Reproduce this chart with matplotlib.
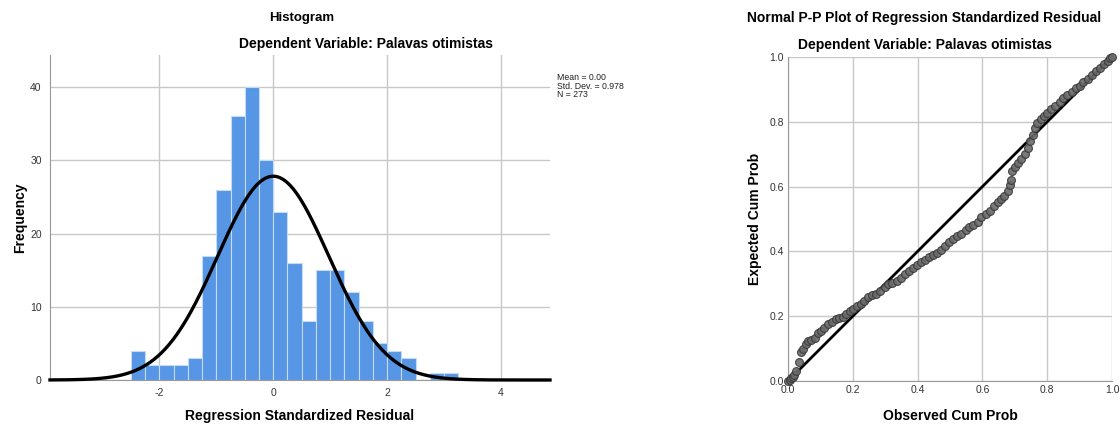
import numpy as np
import matplotlib
matplotlib.use("Agg")
import matplotlib.pyplot as plt

plt.rcParams['font.family'] = ['Liberation Sans', 'DejaVu Sans']
plt.rcParams['axes.unicode_minus'] = False

# Histogram data (bins of 0.25 starting at -2.5)
bin_start = -2.5
bin_width = 0.25
counts = [4, 2, 2, 2, 3, 17, 26, 36, 40, 30, 23, 16, 8, 15, 15, 12, 8, 5, 4, 3, 0, 1, 1]
mean = 0.00
std_dev = 0.978
n_obs = 273

# P-P plot points
obs_cum = [0.000, 0.005, 0.010, 0.015, 0.020, 0.025, 0.033, 0.040, 0.047, 0.055,
           0.063, 0.072, 0.082, 0.092, 0.102, 0.112, 0.124, 0.135, 0.147, 0.158,
           0.170, 0.180, 0.190, 0.200, 0.212, 0.224, 0.236, 0.248, 0.260, 0.272,
           0.285, 0.298, 0.310, 0.322, 0.335, 0.348, 0.360, 0.372, 0.385, 0.398,
           0.410, 0.422, 0.435, 0.448, 0.460, 0.472, 0.485, 0.497, 0.510, 0.522,
           0.535, 0.548, 0.560, 0.572, 0.585, 0.597, 0.610, 0.622, 0.635, 0.647,
           0.658, 0.668, 0.678, 0.684, 0.688, 0.692, 0.700, 0.710, 0.720, 0.730,
           0.740, 0.748, 0.755, 0.762, 0.770, 0.780, 0.790, 0.800, 0.812, 0.825,
           0.838, 0.850, 0.862, 0.875, 0.888, 0.900, 0.912, 0.925, 0.938, 0.950,
           0.962, 0.975, 0.987, 0.995, 1.000]
exp_cum = [0.000, 0.004, 0.008, 0.012, 0.018, 0.030, 0.058, 0.090, 0.100, 0.115,
           0.122, 0.128, 0.132, 0.148, 0.155, 0.165, 0.176, 0.183, 0.190, 0.193,
           0.198, 0.208, 0.216, 0.222, 0.230, 0.238, 0.248, 0.258, 0.266, 0.270,
           0.278, 0.290, 0.298, 0.304, 0.310, 0.318, 0.330, 0.340, 0.350, 0.358,
           0.366, 0.374, 0.382, 0.390, 0.396, 0.403, 0.418, 0.428, 0.438, 0.446,
           0.455, 0.465, 0.474, 0.482, 0.492, 0.505, 0.515, 0.526, 0.540, 0.552,
           0.562, 0.570, 0.585, 0.605, 0.620, 0.648, 0.660, 0.672, 0.685, 0.700,
           0.720, 0.740, 0.760, 0.780, 0.795, 0.808, 0.818, 0.828, 0.838, 0.850,
           0.862, 0.872, 0.882, 0.893, 0.903, 0.912, 0.922, 0.933, 0.945, 0.956,
           0.966, 0.978, 0.988, 0.996, 1.000]

fig = plt.figure(figsize=(11.2, 4.25), dpi=100)
grid_col = '#c8c8c8'
tick_col = '#333333'

# ---- Histogram ----
ax1 = fig.add_axes([50/1120, 1-380/425, 500/1120, 325/425])
lefts = bin_start + bin_width*np.arange(len(counts))
ax1.bar(lefts, counts, width=bin_width, align='edge', color='#5696e5',
        edgecolor='#c4dbf6', linewidth=0.8, zorder=2)
xs = np.linspace(-3.92, 4.86, 400)
curve = n_obs*bin_width*np.exp(-0.5*((xs-mean)/std_dev)**2)/(std_dev*np.sqrt(2*np.pi))
ax1.plot(xs, curve, color='black', lw=2.4, zorder=3, clip_on=False)
ax1.set_xlim(-3.92, 4.86)
ax1.set_ylim(0, 44.4)
ax1.set_xticks([-2, 0, 2, 4])
ax1.set_yticks([0, 10, 20, 30, 40])
ax1.grid(True, color=grid_col, lw=1, zorder=0)
ax1.set_axisbelow(True)
for s in ['top', 'right']:
    ax1.spines[s].set_visible(False)
ax1.spines['left'].set_color('#999999')
ax1.spines['bottom'].set_color('#999999')
ax1.tick_params(length=0, labelsize=7.5, labelcolor=tick_col, pad=6)
ax1.set_xlabel('Regression Standardized Residual', fontsize=10, fontweight='bold', labelpad=8)
ax1.set_ylabel('Frequency', fontsize=10, fontweight='bold', labelpad=2)
fig.text(302/1120, 1-18/425, 'Histogram', ha='center', va='center', fontsize=9.5, fontweight='bold')
fig.text(366/1120, 1-44/425, 'Dependent Variable: Palavas otimistas', ha='center', va='center',
         fontsize=10, fontweight='bold')
fig.text(557/1120, 1-73/425, 'Mean = 0.00\nStd. Dev. = 0.978\nN = 273', ha='left', va='top',
         fontsize=6.3, linespacing=0.95, color='#222222')

# ---- P-P plot ----
ax2 = fig.add_axes([788/1120, 1-381/425, 324/1120, 324/425])
ax2.plot([0, 1], [0, 1], color='black', lw=2, zorder=3)
ax2.scatter(obs_cum, exp_cum, s=32, facecolor='#6a6a6a', edgecolor='#383838', linewidth=0.8,
            alpha=0.9, zorder=4, clip_on=False)
ax2.set_xlim(0, 1)
ax2.set_ylim(0, 1)
ticks = [0.0, 0.2, 0.4, 0.6, 0.8, 1.0]
ax2.set_xticks(ticks)
ax2.set_yticks(ticks)
ax2.set_xticklabels(['%.1f' % t for t in ticks])
ax2.set_yticklabels(['%.1f' % t for t in ticks])
ax2.grid(True, color=grid_col, lw=1, zorder=0)
ax2.set_axisbelow(True)
for s in ['top', 'right']:
    ax2.spines[s].set_visible(False)
ax2.spines['left'].set_color('#999999')
ax2.spines['bottom'].set_color('#999999')
ax2.tick_params(length=0, labelsize=7.5, labelcolor=tick_col, pad=3)
ax2.set_xlabel('Observed Cum Prob', fontsize=10, fontweight='bold', labelpad=10)
ax2.set_ylabel('Expected Cum Prob', fontsize=10, fontweight='bold', labelpad=5)
fig.text(924/1120, 1-18/425, 'Normal P-P Plot of Regression Standardized Residual', ha='center',
         va='center', fontsize=10, fontweight='bold')
fig.text(925/1120, 1-45/425, 'Dependent Variable: Palavas otimistas', ha='center', va='center',
         fontsize=10, fontweight='bold')

fig.savefig('out.png', dpi=100)
